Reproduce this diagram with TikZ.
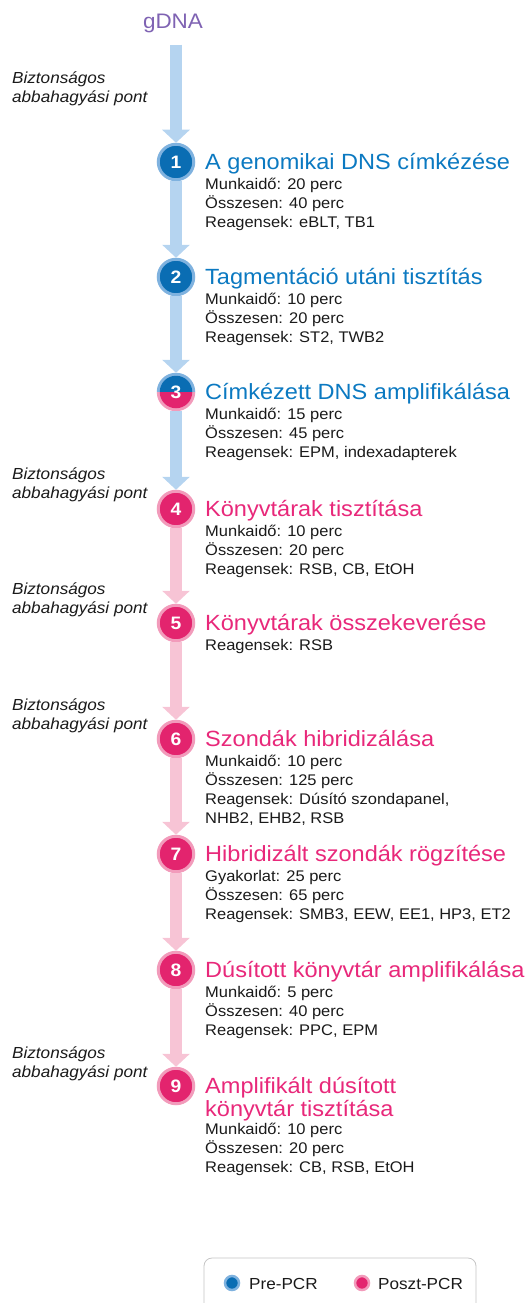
\documentclass[tikz,border=0pt]{standalone}
\usepackage{fontspec}
\setmainfont{Liberation Sans}[FakeStretch=1.07]
\usetikzlibrary{arrows.meta,calc}
\definecolor{pblue}{HTML}{0A6DB3}
\definecolor{pbluering}{HTML}{7FB2DF}
\definecolor{tblue}{HTML}{0B79C1}
\definecolor{ppink}{HTML}{E3246E}
\definecolor{ppinkring}{HTML}{F29BBB}
\definecolor{tpink}{HTML}{E8287A}
\definecolor{ablue}{HTML}{B5D4F0}
\definecolor{apink}{HTML}{F7C4D5}
\definecolor{gpurple}{HTML}{7F63B3}
\definecolor{txt}{HTML}{1A1A1A}
\definecolor{legborder}{HTML}{C4C4C4}
\begin{document}
\begin{tikzpicture}[x=1pt,y=-1pt,
  numblue/.style={circle,minimum size=35.5pt,inner sep=0pt,line width=3pt,draw=pbluering,fill=pblue,text=white,font=\fontsize{18}{18}\selectfont\bfseries},
  numpink/.style={circle,minimum size=35.5pt,inner sep=0pt,line width=3pt,draw=ppinkring,fill=ppink,text=white,font=\fontsize{18}{18}\selectfont\bfseries},
  numsplit/.style={circle,minimum size=35.5pt,inner sep=0pt,outer sep=1.5pt,text=white,font=\fontsize{18}{18}\selectfont\bfseries},
  titleblue/.style={anchor=base west,inner sep=0pt,text=tblue,font=\fontsize{22}{23}\selectfont},
  titlepink/.style={anchor=base west,inner sep=0pt,text=tpink,font=\fontsize{22}{23}\selectfont},
  titlepinktwo/.style={anchor=north west,inner sep=0pt,align=left,text=tpink,font=\fontsize{22}{23}\selectfont},
  body/.style={anchor=north west,inner sep=0pt,align=left,text=txt,font=\fontsize{15.4}{19}\selectfont},
  safe/.style={anchor=north west,inner sep=0pt,align=left,text=txt,font=\fontsize{16}{19}\selectfont\itshape},
  flowblue/.style={draw=ablue,line width=12pt,-{Triangle[width=27pt,length=13pt]}},
  flowpink/.style={draw=apink,line width=12pt,-{Triangle[width=27pt,length=13pt]}},
  legdotblue/.style={circle,minimum size=14pt,inner sep=0pt,line width=2.5pt,draw=pbluering,fill=pblue},
  legdotpink/.style={circle,minimum size=14pt,inner sep=0pt,line width=2.5pt,draw=ppinkring,fill=ppink},
  legtext/.style={anchor=base west,inner sep=0pt,text=txt,font=\fontsize{16}{19}\selectfont},
  legbox/.style={draw=legborder,line width=0.8pt,rounded corners=8pt}
]
\useasboundingbox (0,0) rectangle (531,1303);

% start
\node[anchor=base,inner sep=0pt,text=gpurple,font=\fontsize{21}{21}\selectfont] (g) at (173,29) {gDNA};

% step circles
\node[numblue] (c1) at (176,162) {1};
\node[numblue] (c2) at (176,277) {2};
\coordinate (c3pos) at (176,392);
\fill[pbluering] ($(c3pos)+(19.25,0)$) arc[start angle=0,end angle=180,radius=19.25pt] -- cycle;
\fill[ppinkring] ($(c3pos)+(-19.25,0)$) arc[start angle=180,end angle=360,radius=19.25pt] -- cycle;
\fill[pblue] ($(c3pos)+(16.25,0)$) arc[start angle=0,end angle=180,radius=16.25pt] -- cycle;
\fill[ppink] ($(c3pos)+(-16.25,0)$) arc[start angle=180,end angle=360,radius=16.25pt] -- cycle;
\node[numsplit] (c3) at (c3pos) {3};
\node[numpink] (c4) at (176,509) {4};
\node[numpink] (c5) at (176,623) {5};
\node[numpink] (c6) at (176,739) {6};
\node[numpink] (c7) at (176,854) {7};
\node[numpink] (c8) at (176,970) {8};
\node[numpink] (c9) at (176,1086) {9};

% connectors
\draw[flowblue,shorten <=11pt] (g.south -| c1) -- (c1);
\draw[flowblue] (c1) -- (c2);
\draw[flowblue] (c2) -- (c3);
\draw[flowblue] (c3) -- (c4);
\draw[flowpink] (c4) -- (c5);
\draw[flowpink] (c5) -- (c6);
\draw[flowpink] (c6) -- (c7);
\draw[flowpink] (c7) -- (c8);
\draw[flowpink] (c8) -- (c9);

% titles
\node[titleblue] (t1) at (205,169) {A genomikai DNS címkézése};
\node[titleblue] (t2) at (205,284) {Tagmentáció utáni tisztítás};
\node[titleblue] (t3) at (205,399) {Címkézett DNS amplifikálása};
\node[titlepink] (t4) at (205,516) {Könyvtárak tisztítása};
\node[titlepink] (t5) at (205,630) {Könyvtárak összekeverése};
\node[titlepink] (t6) at (205,746) {Szondák hibridizálása};
\node[titlepink] (t7) at (205,861) {Hibridizált szondák rögzítése};
\node[titlepink] (t8) at (205,977) {Dúsított könyvtár amplifikálása};
\node[titlepinktwo] (t9) at (205,1073) {\rule{0pt}{20pt}Amplifikált dúsított\\könyvtár tisztítása};

% bodies
\node[body] (b1) at (205,173) {\rule{0pt}{16pt}Munkaidő: 20 perc\\Összesen: 40 perc\\Reagensek: eBLT, TB1};
\node[body] (b2) at (205,288) {\rule{0pt}{16pt}Munkaidő: 10 perc\\Összesen: 20 perc\\Reagensek: ST2, TWB2};
\node[body] (b3) at (205,403) {\rule{0pt}{16pt}Munkaidő: 15 perc\\Összesen: 45 perc\\Reagensek: EPM, indexadapterek};
\node[body] (b4) at (205,520) {\rule{0pt}{16pt}Munkaidő: 10 perc\\Összesen: 20 perc\\Reagensek: RSB, CB, EtOH};
\node[body] (b5) at (205,634) {\rule{0pt}{16pt}Reagensek: RSB};
\node[body] (b6) at (205,750) {\rule{0pt}{16pt}Munkaidő: 10 perc\\Összesen: 125 perc\\Reagensek: Dúsító szondapanel,\\NHB2, EHB2, RSB};
\node[body] (b7) at (205,865) {\rule{0pt}{16pt}Gyakorlat: 25 perc\\Összesen: 65 perc\\Reagensek: SMB3, EEW, EE1, HP3, ET2};
\node[body] (b8) at (205,981) {\rule{0pt}{16pt}Munkaidő: 5 perc\\Összesen: 40 perc\\Reagensek: PPC, EPM};
\node[body] (b9) at (205,1118) {\rule{0pt}{16pt}Munkaidő: 10 perc\\Összesen: 20 perc\\Reagensek: CB, RSB, EtOH};

% safe stopping points
\node[safe] (s1) at (12,67) {\rule{0pt}{16pt}Biztonságos\\abbahagyási pont};
\node[safe] (s2) at (12,463) {\rule{0pt}{16pt}Biztonságos\\abbahagyási pont};
\node[safe] (s3) at (12,578) {\rule{0pt}{16pt}Biztonságos\\abbahagyási pont};
\node[safe] (s4) at (12,694) {\rule{0pt}{16pt}Biztonságos\\abbahagyási pont};
\node[safe] (s5) at (12,1042) {\rule{0pt}{16pt}Biztonságos\\abbahagyási pont};

% legend
\draw[legbox] (204,1304) -- (204,1258) -- (476,1258) -- (476,1304);
\node[legdotblue] (lb) at (232,1283) {};
\node[legtext] (lbt) at (249,1289) {Pre-PCR};
\node[legdotpink] (lp) at (362,1283) {};
\node[legtext] (lpt) at (378,1289) {Poszt-PCR};
\end{tikzpicture}
\end{document}
